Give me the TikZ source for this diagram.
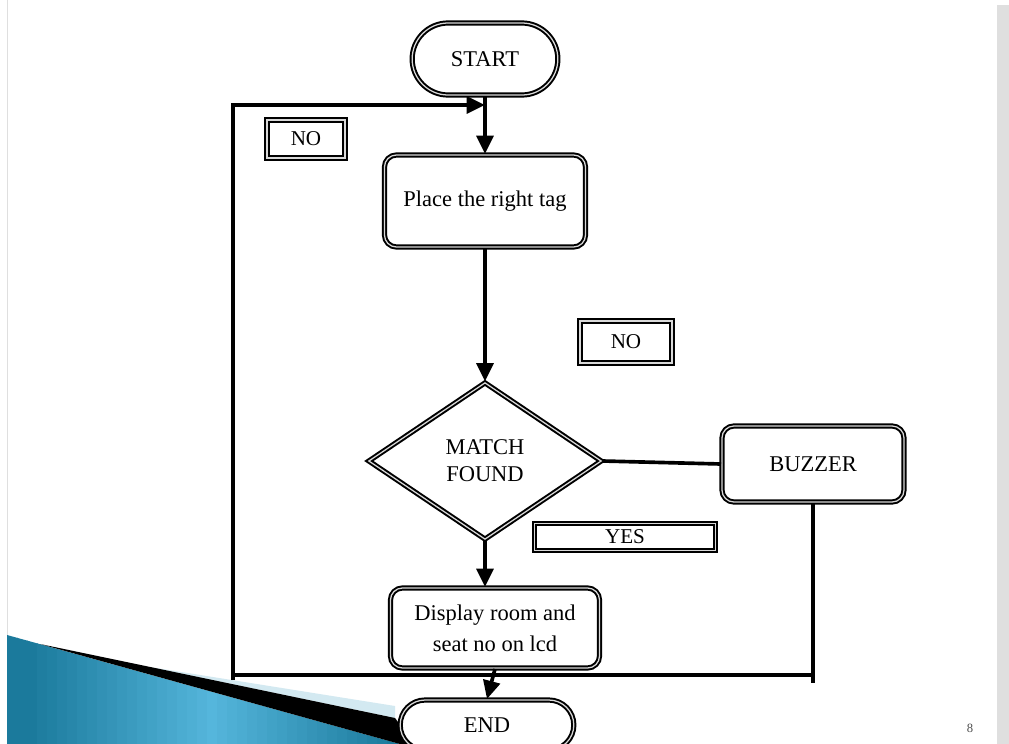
\documentclass[tikz,border=0pt]{standalone}
\usepackage{fontspec}
\setmainfont{Liberation Serif}
\usetikzlibrary{arrows.meta,shapes.geometric,shapes.misc}
\definecolor{tealdk}{HTML}{1B7A9C}
\definecolor{teallt}{HTML}{55B6DC}
\definecolor{paleblue}{HTML}{D3E9F1}
\tikzset{
  dbl/.style={draw=black,line width=1.4pt,double=gray!30,double distance=0.9pt},
  termblk/.style={dbl,rounded rectangle,fill=white,font=\fontsize{16}{19}\selectfont},
  procblk/.style={dbl,rectangle,rounded corners=0.3cm,fill=white,align=center,font=\fontsize{16}{19}\selectfont},
  decblk/.style={dbl,diamond,fill=white,align=center,inner sep=0pt,font=\fontsize{16}{19}\selectfont},
  tagblk/.style={dbl,rectangle,fill=white,inner sep=0pt,font=\fontsize{15}{17}\selectfont},
  arr/.style={-{Triangle[length=13pt,width=12pt]},line width=2.6pt},
  lnk/.style={line width=2.6pt}
}
\begin{document}
\begin{tikzpicture}[x=0.025cm,y=-0.025cm]
  \useasboundingbox (0,0) rectangle (1009,744);
  % slide background
  \fill[white] (0,0) rectangle (1009,744);
  \fill[gray!25] (997,5) rectangle (1009,744);
  \draw[gray!25,line width=0.6pt] (7,0) -- (7,744);
  \begin{scope}
    \clip (7,635) -- (400,744) -- (7,744) -- cycle;
    \foreach \i [evaluate=\i as \p using {int(max(0,100-abs(10*\i-200)*0.55))}] in {0,...,39}
      \fill[teallt!\p!tealdk] (7+10*\i,600) rectangle (18+10*\i,744);
  \end{scope}
  \fill[paleblue] (150,667) -- (395,706) -- (395,718) -- cycle;
  \fill[black] (40,644) -- (395,718) -- (415,744) -- (400,744) -- cycle;

  \node[termblk,minimum width=3.875cm,minimum height=1.8cm] (start) at (485,59) {START};
  \node[procblk,minimum width=5.025cm,minimum height=2.3cm] (tag) at (485,201) {Place the right tag};
  \node[decblk,minimum width=5.825cm,minimum height=3.925cm] (match) at (485,461) {MATCH\\FOUND};
  \node[procblk,minimum width=4.55cm,minimum height=1.9cm] (buzz) at (813,464) {BUZZER};
  \node[procblk,minimum width=5.225cm,minimum height=2cm,font=\fontsize{16}{22}\selectfont] (disp) at (495,628) {Display room and\\seat no on lcd};
  \node[termblk,minimum width=4.575cm,minimum height=1.25cm] (fin) at (487,725) {END};
  \node[tagblk,minimum width=1.95cm,minimum height=0.95cm] (no1) at (306,139) {NO};
  \node[tagblk,minimum width=2.3cm,minimum height=1.05cm] (no2) at (626,342) {NO};
  \node[tagblk,minimum width=4.525cm,minimum height=0.675cm] (yes) at (625,537) {YES};
  \node[font=\fontsize{9}{10}\selectfont,text=gray!60!black] (pnum) at (970,728) {8};

  \coordinate (join) at (485,105);
  \coordinate (lup) at (233,105);
  \coordinate (ldn) at (233,680);
  \coordinate (bl) at (233,675);
  \coordinate (br) at (812,675);
  \coordinate (rdn) at (812,683);

  \draw[arr] (start) -- (tag);
  \draw[arr] (tag) -- (match);
  \draw[lnk] (match.east) -- (buzz.west);
  \draw[arr] (match.south) -- (match.south |- disp.north);
  \draw[arr] (disp.south) -- (fin.north);
  \draw[lnk] (bl) -- (br);
  \draw[lnk] (buzz.south) -- (buzz.south |- rdn);
  \draw[arr] (ldn) -- (lup) -- (join);
\end{tikzpicture}
\end{document}
